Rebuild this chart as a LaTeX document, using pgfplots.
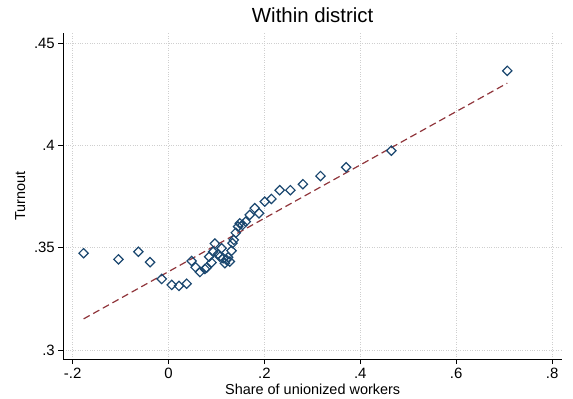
\documentclass[border=0pt]{standalone}
\usepackage{fontspec}
\setmainfont{Liberation Sans}
\usepackage{pgfplots}
\pgfplotsset{compat=1.18}
\definecolor{stnavy}{HTML}{1A476F}
\definecolor{stmaroon}{HTML}{90353B}
\definecolor{gridgray}{HTML}{CFCFCF}
\begin{document}
\begin{tikzpicture}
\path[use as bounding box] (-63.3bp,-40bp) rectangle (509.7bp,359bp);
\begin{axis}[
  at={(0,0)}, anchor=south west,
  scale only axis,
  width=498.7bp, height=326bp,
  xmin=-0.2194, xmax=0.8206,
  ymin=0.2956, ymax=0.4549,
  axis x line*=bottom, axis y line*=left,
  axis line style={line width=0.8bp, black, -},
  xtick={-0.2,0,0.2,0.4,0.6,0.8},
  xticklabels={-.2,0,.2,.4,.6,.8},
  ytick={0.3,0.35,0.4,0.45},
  yticklabels={.3,.35,.4,.45},
  /pgf/number format/assume math mode=true,
  tick label style={font=\fontsize{15}{15}\selectfont},
  tick align=outside,
  major tick length=5bp,
  tick style={line width=0.8bp, black},
  grid=major,
  major grid style={gridgray, dotted, line width=0.8bp},
  title={Within district},
  title style={font=\fontsize{20.5}{20.5}\selectfont, at={(0.5,1)}, anchor=base, yshift=5bp},
  xlabel={Share of unionized workers},
  ylabel={Turnout},
  label style={font=\fontsize{14.5}{14.5}\selectfont},
  xlabel style={at={(0.5,0)}, anchor=base, yshift=-35bp},
  ylabel style={at={(axis description cs:-0.0862,0.5)}, anchor=center},
  xticklabel style={yshift=-1bp},
  clip=false,
]
\addplot[only marks, mark=square, mark size=3.3bp,
  mark options={rotate=45, draw=stnavy, line width=1.2bp, fill=none}]
  table {
x y
-0.1771 0.3473
-0.1044 0.3443
-0.0628 0.3480
-0.0385 0.3429
-0.0141 0.3347
0.0067 0.3318
0.0218 0.3313
0.0378 0.3324
0.0482 0.3435
0.0565 0.3404
0.0655 0.3381
0.0759 0.3396
0.0794 0.3402
0.0898 0.3427
0.0848 0.3456
0.0967 0.3520
0.0931 0.3480
0.1035 0.3469
0.1106 0.3497
0.1071 0.3456
0.1139 0.3448
0.1175 0.3424
0.1210 0.3440
0.1243 0.3453
0.1279 0.3432
0.1314 0.3485
0.1335 0.3522
0.1362 0.3538
0.1403 0.3573
0.1451 0.3603
0.1486 0.3619
0.1543 0.3611
0.1611 0.3627
0.1694 0.3660
0.1798 0.3693
0.1888 0.3668
0.2006 0.3725
0.2146 0.3738
0.2318 0.3781
0.2541 0.3781
0.2803 0.3810
0.3170 0.3850
0.3705 0.3893
0.4647 0.3974
0.7065 0.4364
};
\addplot[stmaroon, line width=1.2bp, dash pattern=on 7bp off 4bp]
  coordinates {(-0.1771,0.3152) (0.7065,0.4304)};
\end{axis}
\end{tikzpicture}
\end{document}
